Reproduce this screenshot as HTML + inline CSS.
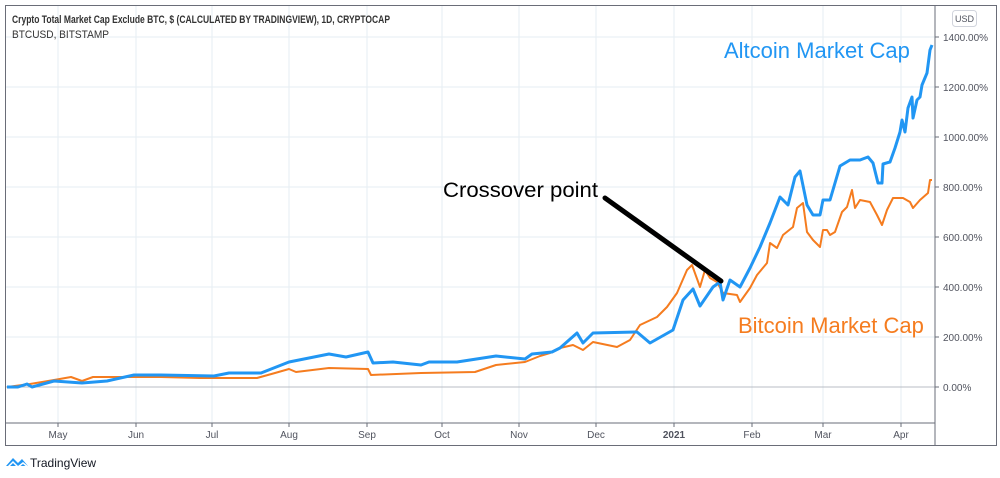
<!DOCTYPE html>
<html><head><meta charset="utf-8"><style>
html,body{margin:0;padding:0;background:#fff;width:1000px;height:478px;overflow:hidden}
svg{display:block}
text{font-family:"Liberation Sans",sans-serif}
</style></head><body>
<svg width="1000" height="478" viewBox="0 0 1000 478" xmlns="http://www.w3.org/2000/svg">
<g stroke="#e6edf3" stroke-width="1">
<line x1="58" y1="6" x2="58" y2="423"/><line x1="136" y1="6" x2="136" y2="423"/><line x1="212" y1="6" x2="212" y2="423"/><line x1="289" y1="6" x2="289" y2="423"/><line x1="367" y1="6" x2="367" y2="423"/><line x1="442" y1="6" x2="442" y2="423"/><line x1="519" y1="6" x2="519" y2="423"/><line x1="596" y1="6" x2="596" y2="423"/><line x1="674" y1="6" x2="674" y2="423"/><line x1="752" y1="6" x2="752" y2="423"/><line x1="823" y1="6" x2="823" y2="423"/><line x1="901" y1="6" x2="901" y2="423"/>
<line x1="6" y1="337" x2="935" y2="337"/><line x1="6" y1="287" x2="935" y2="287"/><line x1="6" y1="237" x2="935" y2="237"/><line x1="6" y1="187" x2="935" y2="187"/><line x1="6" y1="137" x2="935" y2="137"/><line x1="6" y1="87" x2="935" y2="87"/><line x1="6" y1="37" x2="935" y2="37"/>
</g>
<line x1="6" y1="387" x2="935" y2="387" stroke="#b8bcc4" stroke-width="1"/>
<rect x="5.5" y="5.5" width="991" height="440" fill="none" stroke="#6a6d78" stroke-width="1"/>
<line x1="935" y1="5" x2="935" y2="446" stroke="#6a6d78"/>
<line x1="5" y1="423" x2="935" y2="423" stroke="#6a6d78"/>
<g stroke="#6a6d78"><line x1="58" y1="423" x2="58" y2="427"/><line x1="136" y1="423" x2="136" y2="427"/><line x1="212" y1="423" x2="212" y2="427"/><line x1="289" y1="423" x2="289" y2="427"/><line x1="367" y1="423" x2="367" y2="427"/><line x1="442" y1="423" x2="442" y2="427"/><line x1="519" y1="423" x2="519" y2="427"/><line x1="596" y1="423" x2="596" y2="427"/><line x1="674" y1="423" x2="674" y2="427"/><line x1="752" y1="423" x2="752" y2="427"/><line x1="823" y1="423" x2="823" y2="427"/><line x1="901" y1="423" x2="901" y2="427"/>
<line x1="935" y1="37" x2="939" y2="37"/><line x1="935" y1="87" x2="939" y2="87"/><line x1="935" y1="137" x2="939" y2="137"/><line x1="935" y1="187" x2="939" y2="187"/><line x1="935" y1="237" x2="939" y2="237"/><line x1="935" y1="287" x2="939" y2="287"/><line x1="935" y1="337" x2="939" y2="337"/><line x1="935" y1="387" x2="939" y2="387"/></g>
<g font-size="10" fill="#50535e" text-anchor="middle">
<text x="58" y="438">May</text><text x="136" y="438">Jun</text><text x="212" y="438">Jul</text><text x="289" y="438">Aug</text><text x="367" y="438">Sep</text><text x="442" y="438">Oct</text><text x="519" y="438">Nov</text><text x="596" y="438">Dec</text><text x="674" y="438" font-weight="bold">2021</text><text x="752" y="438">Feb</text><text x="823" y="438">Mar</text><text x="901" y="438">Apr</text>
</g>
<g font-size="10" fill="#50535e">
<text x="943" y="41">1400.00%</text><text x="943" y="91">1200.00%</text><text x="943" y="141">1000.00%</text><text x="943" y="191">800.00%</text><text x="943" y="241">600.00%</text><text x="943" y="291">400.00%</text><text x="943" y="341">200.00%</text><text x="943" y="391">0.00%</text>
</g>
<rect x="952.5" y="10.5" width="24" height="16" rx="3" fill="#fff" stroke="#d1d4dc"/>
<text x="964.5" y="22" font-size="9" fill="#50535e" text-anchor="middle">USD</text>
<text x="12" y="23" font-size="11" font-weight="600" fill="#333" textLength="378" lengthAdjust="spacingAndGlyphs">Crypto Total Market Cap Exclude BTC, $ (CALCULATED BY TRADINGVIEW), 1D, CRYPTOCAP</text>
<text x="12" y="38" font-size="11" fill="#333" textLength="97" lengthAdjust="spacingAndGlyphs">BTCUSD, BITSTAMP</text>
<polyline fill="none" stroke="#f57c1f" stroke-width="2" stroke-linejoin="round" points="7,387 30,384 54,380 71,377 82,381 93,377 107,377 136,377 161,377 200,378 257,378 275,373 289,369 296,372 329,368 368,369 371,375 421,373 475,372 496,365 525,362 540,356 550,353 560,348 573,345 583,350 593,342 617,347 630,340 640,325 657,317 667,307 677,293 687,270 692,265 700,287 705,270 710,278 717,282 723,293 737,295 740,302 750,288 757,275 767,263 770,243 777,248 783,235 793,227 797,208 803,203 807,232 813,240 820,247 823,230 827,230 830,235 835,232 842,212 847,207 852,190 855,208 860,200 870,202 877,215 882,225 887,210 893,198 903,198 910,202 913,208 920,200 928,193 930,180 932,180"/>
<polyline fill="none" stroke="#2196f3" stroke-width="3" stroke-linejoin="round" points="7,387 18,387 27,384 32,387 54,381 82,383 107,381 134,375 161,375 214,376 229,373 261,373 289,362 329,354 346,357 368,352 373,363 393,362 421,365 429,362 457,362 496,356 525,359 532,354 552,352 560,348 577,333 583,343 593,333 637,332 650,343 673,330 683,300 693,289 700,306 713,287 720,282 723,300 730,280 740,287 750,268 760,247 770,223 780,197 788,205 795,177 800,171 807,205 813,215 820,215 823,200 830,200 840,166 850,160 860,160 868,157 873,163 878,183 882,183 883,164 890,162 895,148 900,132 902,120 905,132 908,108 912,97 913,118 917,100 920,97 922,85 927,73 930,50 932,45"/>
<line x1="605" y1="198" x2="721" y2="281" stroke="#000" stroke-width="5" stroke-linecap="round"/>
<text x="443" y="197" font-size="21" fill="#000" textLength="155" lengthAdjust="spacingAndGlyphs">Crossover point</text>
<text x="724" y="58" font-size="22" fill="#2196f3">Altcoin Market Cap</text>
<text x="738" y="333" font-size="22" fill="#f57c1f">Bitcoin Market Cap</text>
<g transform="translate(6,456)">
<path d="M0,10 L7,2 L12,7 L16,3 L22,10 Z" fill="#2196f3"/>
<path d="M2,11 L7,6 L12,11 L17,7 L22,11" fill="none" stroke="#fff" stroke-width="1.5"/>
</g>
<text x="30" y="467" font-size="12" fill="#131722">TradingView</text>
</svg>
</body></html>
